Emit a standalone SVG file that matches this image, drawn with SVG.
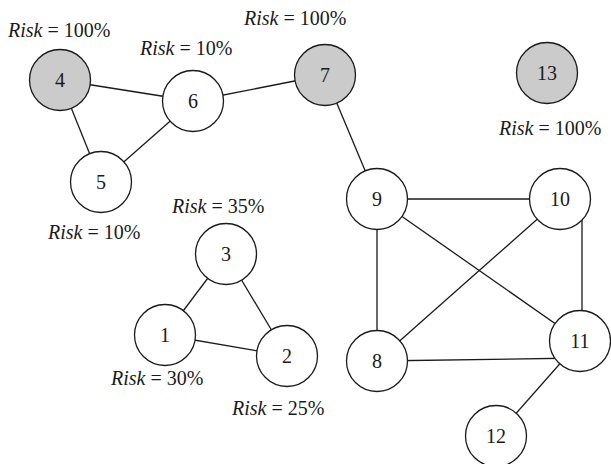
<svg xmlns="http://www.w3.org/2000/svg" width="611" height="464" viewBox="0 0 611 464">
  <style>
    .edge { stroke: #1a1a1a; stroke-width: 1.3; fill: none; }
    .node circle { stroke: #1a1a1a; stroke-width: 1.3; fill: #ffffff; }
    .node.risk circle { fill: #cbcbcb; }
    text { font-family: 'Liberation Serif', 'DejaVu Serif', 'Times New Roman', serif; fill: #1a1a1a; }
    .node text { font-size: 20px; text-anchor: middle; }
    .label { font-size: 20px; }
    .v { font-style: italic; }
  </style>
  <rect width="611" height="464" fill="#ffffff"/>

  <!-- connectors, drawn centre to centre beneath the filled circles -->
  <g id="edges">
    <line class="edge" x1="60" y1="80" x2="193" y2="101"/>
    <line class="edge" x1="60" y1="80" x2="101" y2="182"/>
    <line class="edge" x1="101" y1="182" x2="193" y2="101"/>
    <line class="edge" x1="193" y1="101" x2="325" y2="75"/>
    <line class="edge" x1="325" y1="75" x2="377" y2="199"/>
    <line class="edge" x1="377" y1="199" x2="560" y2="199"/>
    <line class="edge" x1="377" y1="199" x2="377" y2="361"/>
    <line class="edge" x1="377" y1="199" x2="580" y2="341"/>
    <line class="edge" x1="560" y1="199" x2="377" y2="361"/>
    <line class="edge" x1="582" y1="199" x2="582" y2="341"/>
    <line class="edge" x1="377" y1="361" x2="580" y2="358"/>
    <line class="edge" x1="580" y1="341" x2="496" y2="436"/>
    <line class="edge" x1="226" y1="254" x2="165" y2="335"/>
    <line class="edge" x1="226" y1="254" x2="287" y2="356"/>
    <line class="edge" x1="165" y1="335" x2="287" y2="356"/>
  </g>

  <g id="node-1" class="node"><circle cx="165" cy="335" r="30.5"/><text x="165" y="342">1</text></g>
  <g id="node-2" class="node"><circle cx="287" cy="356" r="30.5"/><text x="287" y="363">2</text></g>
  <g id="node-3" class="node"><circle cx="226" cy="254" r="30.5"/><text x="226" y="261">3</text></g>
  <g id="node-4" class="node risk"><circle cx="60" cy="80" r="30.5"/><text x="60" y="87">4</text></g>
  <g id="node-5" class="node"><circle cx="101" cy="182" r="30.5"/><text x="101" y="189">5</text></g>
  <g id="node-6" class="node"><circle cx="193" cy="101" r="30.5"/><text x="193" y="108">6</text></g>
  <g id="node-7" class="node risk"><circle cx="325" cy="75" r="30.5"/><text x="325" y="82">7</text></g>
  <g id="node-8" class="node"><circle cx="377" cy="361" r="30.5"/><text x="377" y="368">8</text></g>
  <g id="node-9" class="node"><circle cx="377" cy="199" r="30.5"/><text x="377" y="206">9</text></g>
  <g id="node-10" class="node"><circle cx="560" cy="199" r="30.5"/><text x="560" y="206">10</text></g>
  <g id="node-11" class="node"><circle cx="580" cy="341" r="30.5"/><text x="580" y="348">11</text></g>
  <g id="node-12" class="node"><circle cx="496" cy="436" r="30.5"/><text x="496" y="443">12</text></g>
  <g id="node-13" class="node risk"><circle cx="547" cy="73" r="30.5"/><text x="547" y="80">13</text></g>

  <g id="risk-labels">
    <text class="label" x="8" y="37"><tspan class="v">Risk</tspan> = 100%</text>
    <text class="label" x="140" y="55"><tspan class="v">Risk</tspan> = 10%</text>
    <text class="label" x="244" y="25"><tspan class="v">Risk</tspan> = 100%</text>
    <text class="label" x="499" y="135"><tspan class="v">Risk</tspan> = 100%</text>
    <text class="label" x="48" y="239"><tspan class="v">Risk</tspan> = 10%</text>
    <text class="label" x="172" y="213"><tspan class="v">Risk</tspan> = 35%</text>
    <text class="label" x="111" y="385"><tspan class="v">Risk</tspan> = 30%</text>
    <text class="label" x="232" y="415"><tspan class="v">Risk</tspan> = 25%</text>
  </g>
</svg>
